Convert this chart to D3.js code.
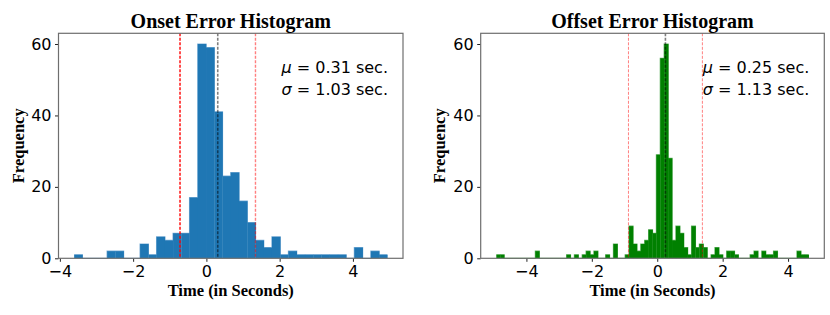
<!DOCTYPE html>
<html>
<head>
<meta charset="utf-8">
<script src="https://cdn.jsdelivr.net/npm/d3@7"></script>
<style>
  body { margin: 0; background: #fff; }
  .tick text { font-family: "DejaVu Sans", sans-serif; font-size: 16px; fill: #000; }
  .tick line { stroke: #222; stroke-width: 1; }
  .domain { display: none; }
  .title { font-family: "Liberation Serif", serif; font-weight: bold; font-size: 20px; }
  .axis-label { font-family: "Liberation Serif", serif; font-weight: bold; font-size: 16.5px; }
  .stat { font-family: "DejaVu Sans", sans-serif; font-size: 16px; }
</style>
</head>
<body>
<svg id="chart" width="830" height="315"></svg>
<script>
// onset errors: 38 bins over the data range
const onsetRange = [-3.61, 4.94];
const onsetCounts = [1, 0, 0, 0, 2, 2, 0, 0, 4, 1, 6, 5, 7, 7, 17, 60, 59, 41, 23, 24,
    16, 10, 5, 3, 6, 1, 2, 1, 1, 1, 1, 1, 1, 0, 3, 0, 2, 1];
const onsetMean = 0.31;
const onsetStd = 1.03;

// offset errors: 80 bins over the data range
const offsetRange = [-4.92, 4.63];
const offsetCounts = [1, 1, 0, 0, 0, 0, 0, 0, 0, 0, 2, 0, 0, 0, 0, 0, 0, 0, 1, 0,
    1, 0, 1, 2, 1, 2, 0, 0, 1, 0, 4, 0, 0, 1, 9, 4, 2, 4, 5, 8,
    7, 29, 56, 60, 28, 5, 9, 7, 3, 1, 9, 3, 4, 3, 0, 1, 3, 1, 0, 2,
    2, 1, 0, 0, 0, 1, 2, 0, 2, 1, 1, 2, 0, 0, 0, 0, 0, 2, 1, 1];
const offsetMean = 0.25;
const offsetStd = 1.13;

const xTicks = [-4, -2, 0, 2, 4];
const yTicks = [0, 20, 40, 60];

const svg = d3.select('#chart');

function drawHist(opt) {
    var left = opt.left, top = 33.3;
    var width = opt.width, height = 225;

    var bins = opt.counts.map(function (c, i) {
        var w = (opt.range[1] - opt.range[0]) / opt.counts.length;
        return {x0: opt.range[0] + i * w, x1: opt.range[0] + (i + 1) * w, count: c};
    });

    var span = opt.range[1] - opt.range[0];
    var x = d3.scaleLinear()
    .domain([opt.range[0] - span * 0.05, opt.range[1] + span * 0.05])
    .range([0, width]);
    var y = d3.scaleLinear()
    .domain([0, d3.max(opt.counts) * 1.05])
    .range([height, 0]);

    var g = svg.append('g').attr('transform', `translate(${left},${top})`);

    // light outline of the histogram, under the bars
    var outline = [];
    bins.forEach(function (b) {
        outline.push([b.x0, b.count]);
        outline.push([b.x1, b.count]);
    });
    g.append('path')
    .datum(outline)
    .attr('fill', 'none')
    .attr('stroke', opt.edge)
    .attr('stroke-width', 1.2)
    .attr('d', d3.line().x(function (d) {return x(d[0])}).y(function (d) {return y(d[1])}));

    g.selectAll('rect.bar')
    .data(bins.filter(function (b) {return b.count > 0}))
    .enter()
    .append('rect')
    .attr('class', 'bar')
    .attr('x', function (b) {return x(b.x0)})
    .attr('width', function (b) {return x(b.x1) - x(b.x0) + 0.3})
    .attr('y', function (b) {return y(b.count)})
    .attr('height', function (b) {return y(0) - y(b.count)})
    .attr('fill', opt.color);

    // mean +/- std lines
    var lines = [
        {v: opt.mean - opt.std, color: 'red', op: opt.lowOpacity, w: opt.redWidth},
        {v: opt.mean + opt.std, color: 'red', op: 0.5, w: opt.redWidth},
        {v: opt.mean, color: 'black', op: 0.5, w: 1.6}
    ];
    g.selectAll('line.stat-line')
    .data(lines)
    .enter()
    .append('line')
    .attr('class', 'stat-line')
    .attr('x1', function (d) {return x(d.v)})
    .attr('x2', function (d) {return x(d.v)})
    .attr('y1', 0)
    .attr('y2', height)
    .attr('stroke', function (d) {return d.color})
    .attr('stroke-opacity', function (d) {return d.op})
    .attr('stroke-width', function (d) {return d.w})
    .attr('stroke-dasharray', '3,1.5');

    g.append('g')
    .attr('transform', `translate(0,${height})`)
    .call(d3.axisBottom(x).tickValues(xTicks).tickSize(3.5).tickPadding(3.5)
        .tickFormat(function (d) {return d < 0 ? '\u2212' + Math.abs(d) : d}));

    g.append('g')
    .call(d3.axisLeft(y).tickValues(yTicks).tickSize(3.5).tickPadding(3.5));

    g.append('rect')
    .attr('width', width)
    .attr('height', height)
    .attr('fill', 'none')
    .attr('stroke', '#6e6e6e')
    .attr('stroke-width', 1.2);

    svg.append('text')
    .attr('class', 'title')
    .attr('x', left + width / 2)
    .attr('y', 28)
    .attr('text-anchor', 'middle')
    .text(opt.title);

    svg.append('text')
    .attr('class', 'axis-label')
    .attr('x', left + width / 2)
    .attr('y', 295.5)
    .attr('text-anchor', 'middle')
    .text('Time (in Seconds)');

    svg.append('text')
    .attr('class', 'axis-label')
    .attr('transform', `translate(${opt.ylabelX},${top + height / 2}) rotate(-90)`)
    .attr('text-anchor', 'middle')
    .text('Frequency');

    var stats = [['\u03bc', opt.mean], ['\u03c3', opt.std]];
    stats.forEach(function (s, i) {
        var t = g.append('text')
        .attr('class', 'stat')
        .attr('x', width - 15)
        .attr('y', 39.4 + i * 22.3)
        .attr('text-anchor', 'end');
        t.append('tspan').attr('font-style', 'italic').text(s[0]);
        t.append('tspan').text(' = ' + s[1].toFixed(2) + ' sec.');
    });
}

drawHist({
    title: 'Onset Error Histogram', counts: onsetCounts, range: onsetRange,
    mean: onsetMean, std: onsetStd, color: '#1f77b4', edge: '#7fb0d8',
    left: 58.5, width: 344.5, ylabelX: 24, lowOpacity: 1, redWidth: 1.4
});
drawHist({
    title: 'Offset Error Histogram', counts: offsetCounts, range: offsetRange,
    mean: offsetMean, std: offsetStd, color: '#008000', edge: '#66b366',
    left: 480.7, width: 343.6, ylabelX: 445, lowOpacity: 0.5, redWidth: 1
});
</script>
</body>
</html>
